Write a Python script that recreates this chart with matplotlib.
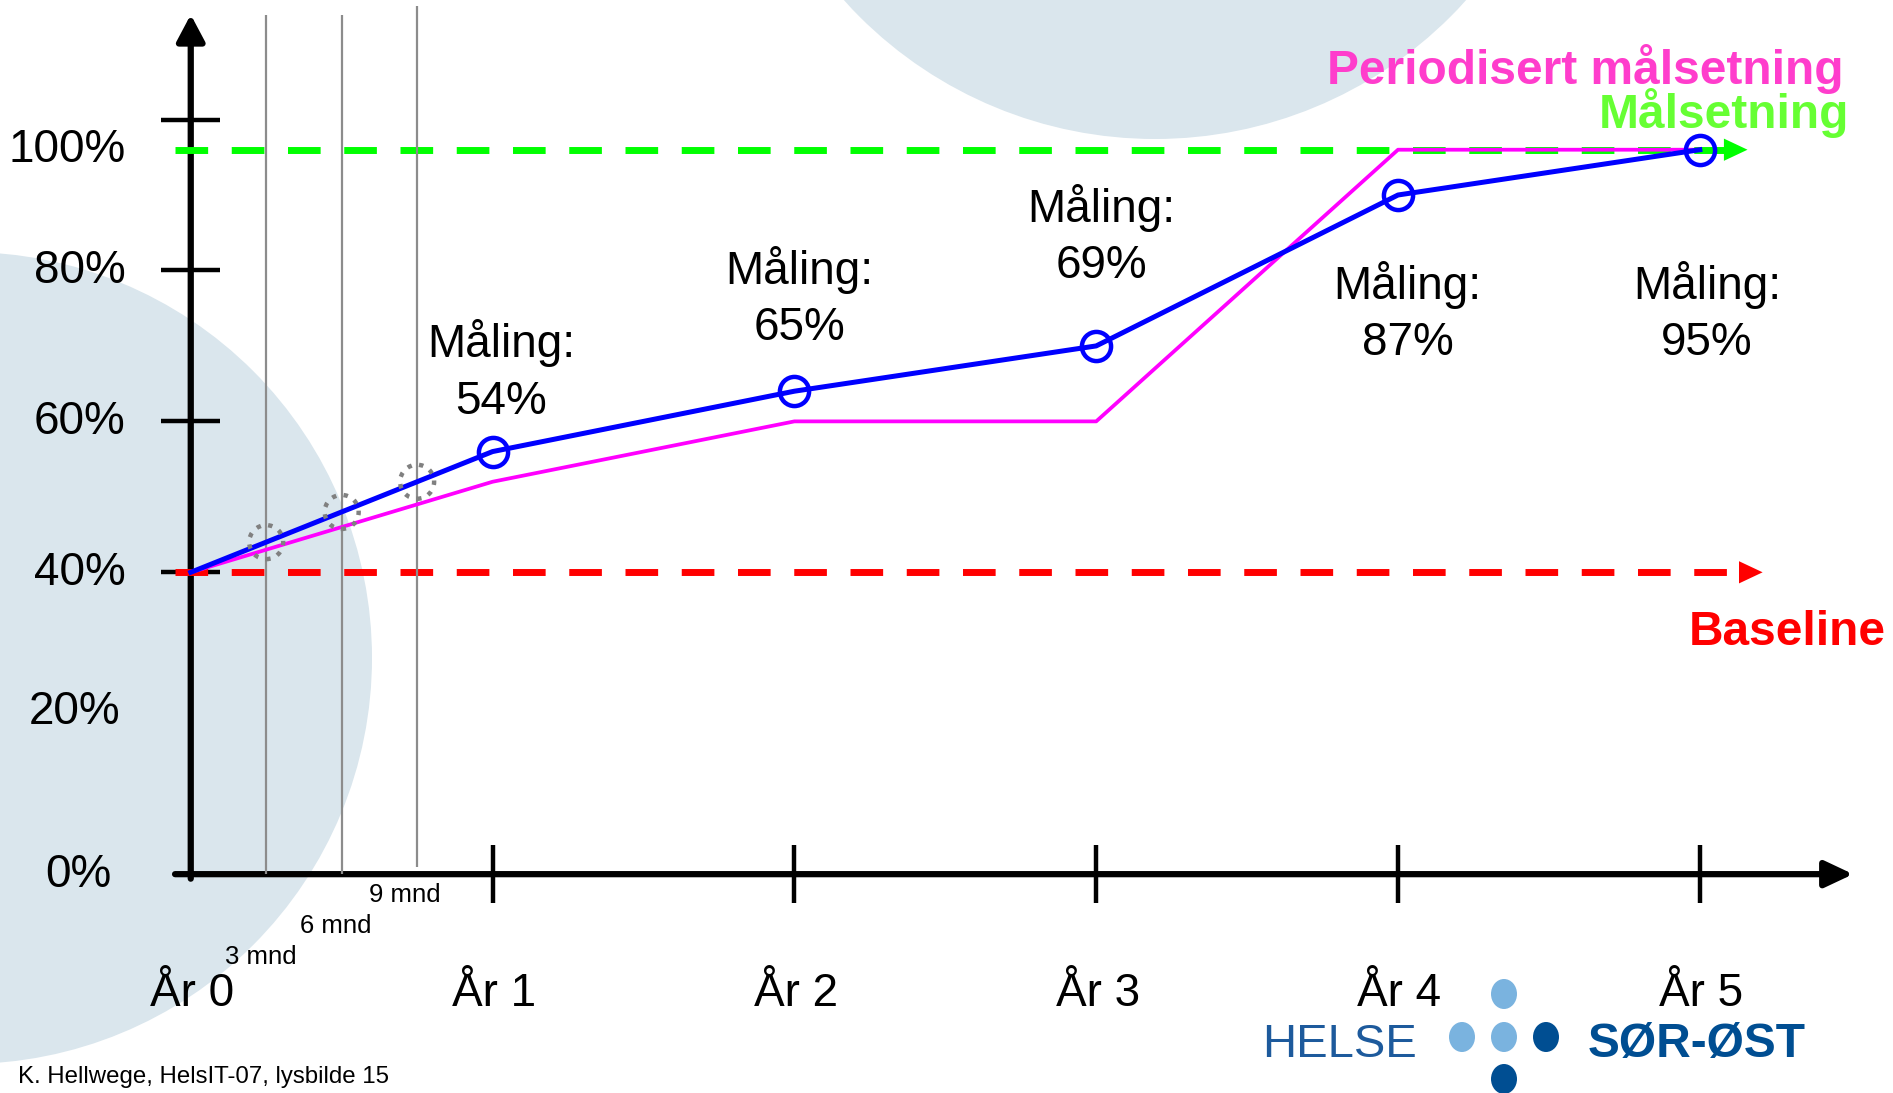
import matplotlib.pyplot as plt
from matplotlib.patches import Circle, Ellipse

plt.rcParams['font.family'] = ['Liberation Sans', 'DejaVu Sans']

# Dados
anos = [0, 1, 2, 3, 4, 5]
maaling = [40, 56, 64, 70, 90, 96]          # posicao da linha azul
periodisert = [40, 52, 60, 60, 96, 96]      # linha magenta
maaling_tekst = [54, 65, 69, 87, 95]        # valores escritos nos rotulos
baseline = 40
maalsetning = 96
mnd = [0.25, 0.5, 0.75]
mnd_verdi = [44, 48, 52]
mnd_tekst = ["3 mnd", "6 mnd", "9 mnd"]
ytick_pos = [40, 60, 80, 100]
ytick_tekst = ["100%", "80%", "60%", "40%", "20%", "0%"]

W, H = 1893, 1093
fig = plt.figure(figsize=(W / 100, H / 100), dpi=100)

# fundo: circulos e logo em pixels
bg = fig.add_axes([0, 0, 1, 1])
bg.set_xlim(0, W)
bg.set_ylim(H, 0)
bg.axis("off")
bg.add_patch(Circle((1155, -279), 418, color="#dae6ed", lw=0))
bg.add_patch(Circle((-34, 658), 406, color="#dae6ed", lw=0))
for (cx, cy), c in zip([(1504, 994), (1462, 1037), (1504, 1037), (1546, 1037), (1504, 1079)],
                       ["#7ab3df", "#7ab3df", "#7ab3df", "#004e92", "#004e92"]):
    bg.add_patch(Ellipse((cx, cy), 26, 30, color=c, lw=0))
bg.text(1262, 1057, "HELSE", fontsize=34, color="#1d5a9c", va="baseline")
bg.text(1588, 1057, "SØR-ØST", fontsize=34.5, color="#004e92", va="baseline", fontweight="bold")

# eixo dos dados por cima
ax = fig.add_axes([0, 0, 1, 1])
ax.patch.set_alpha(0)
ax.set_xlim(-0.632, 5.640)
ax.set_ylim(-29.0, 115.84)
ax.axis("off")

# eixos desenhados a mao
ax.annotate("", xy=(0, 113.9), xytext=(0, -0.6),
            arrowprops=dict(arrowstyle="-|>,head_length=1.6,head_width=0.85", mutation_scale=10,
                            lw=4.5, color="black", shrinkA=0, shrinkB=0), zorder=2)
ax.annotate("", xy=(5.508, 0), xytext=(-0.052, 0),
            arrowprops=dict(arrowstyle="-|>,head_length=1.7,head_width=0.8", mutation_scale=10,
                            lw=4.5, color="black", shrinkA=0, shrinkB=0), zorder=2)
ax.hlines(ytick_pos, -0.1, 0.096, color="black", lw=3.2, zorder=2)
ax.vlines(anos[1:], -3.84, 3.84, color="black", lw=3.2, zorder=2)

# linhas verticais dos meses
ax.vlines(mnd[:2], 0, 113.9, color="#8c8c8c", lw=1.6, zorder=3.5)
ax.vlines(mnd[2], 1.0, 115.0, color="#8c8c8c", lw=1.6, zorder=3.5)

# baseline e målsetning
ax.plot([-0.052, 5.09], [maalsetning] * 2, color="#00ff00", lw=5, dashes=(4.7, 3.4), zorder=3)
ax.annotate("", xy=(5.158, maalsetning), xytext=(5.06, maalsetning),
            arrowprops=dict(arrowstyle="-|>,head_length=1.7,head_width=0.8", mutation_scale=10,
                            lw=0, color="#00ff00", shrinkA=0, shrinkB=0), zorder=3)
ax.plot([-0.052, 5.12], [baseline] * 2, color="#ff0000", lw=5, dashes=(4.7, 3.4), zorder=3)
ax.annotate("", xy=(5.208, baseline), xytext=(5.1, baseline),
            arrowprops=dict(arrowstyle="-|>,head_length=1.7,head_width=0.8", mutation_scale=10,
                            lw=0, color="#ff0000", shrinkA=0, shrinkB=0), zorder=3)

ax.plot(anos, periodisert, color="#ff00ff", lw=2.7, zorder=4)
ax.plot(anos, maaling, color="#0000ff", lw=3.6, zorder=5)
ax.plot(anos[1:], maaling[1:], "o", ms=21, mfc="none", mec="#0000ff", mew=3.2, zorder=6)
ax.scatter(mnd, mnd_verdi, s=600, facecolors="none", edgecolors="#808080",
           linewidths=3.2, linestyle=":", zorder=6)

# rotulos das medicoes
lbl_x = [1.028, 2.016, 3.016, 4.032, 5.024]
lbl_y = [66.6, 76.4, 84.6, 74.4, 74.4]
for x, y, v in zip(lbl_x, lbl_y, maaling_tekst):
    ax.text(x, y, f"Måling:\n{v}%", fontsize=33, ha="center", va="center", linespacing=1.36)

# rotulos dos eixos
ylbl_x = [-0.216, -0.216, -0.216, -0.216, -0.232, -0.264]
ylbl_y = [95.9, 79.9, 59.9, 39.9, 21.5, -0.1]
for x, y, t in zip(ylbl_x, ylbl_y, ytick_tekst):
    ax.text(x, y, t, fontsize=33, ha="right", va="center")
for a in anos:
    ax.text(a + 0.005, -17.45, f"År {a}", fontsize=33, ha="center", va="baseline")
for x, y, t in zip([0.232, 0.482, 0.71], [-11.04, -6.88, -2.72], mnd_tekst):
    ax.text(x, y, t, fontsize=18.5, ha="center", va="center")

# legendas coloridas
ax.text(5.476, 104.7, "Periodisert målsetning", fontsize=34.5, fontweight="bold",
        color="#ff3dcc", ha="right", va="baseline")
ax.text(5.496, 98.9, "Målsetning", fontsize=34.5, fontweight="bold",
        color="#66ff33", ha="right", va="baseline")
ax.text(5.616, 30.4, "Baseline", fontsize=34.5, fontweight="bold",
        color="#ff0000", ha="right", va="baseline")

fig.text(18 / W, 1 - 1083 / H, "K. Hellwege, HelsIT-07, lysbilde 15", fontsize=17.3, va="baseline")

plt.savefig("out.png", dpi=100)
plt.close()
